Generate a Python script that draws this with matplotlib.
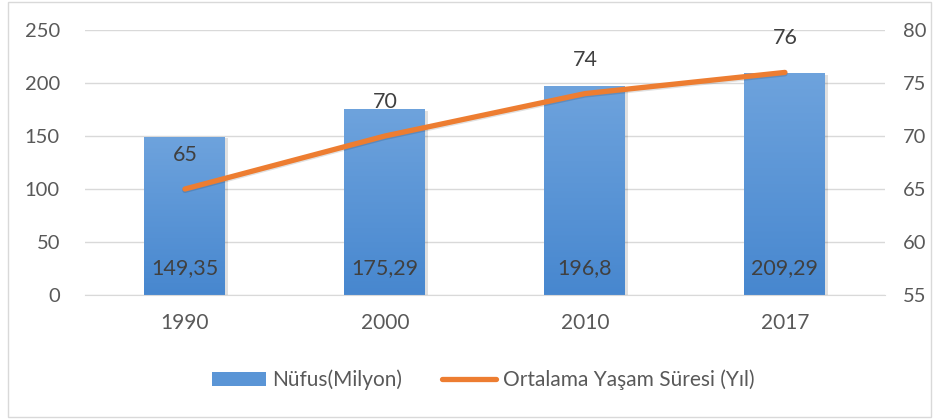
import matplotlib.pyplot as plt
import matplotlib.patches as patches
from matplotlib.lines import Line2D
from matplotlib.colors import LinearSegmentedColormap
import numpy as np

plt.rcParams['font.family'] = ['Lato', 'DejaVu Sans']

# Data
years = ['1990', '2000', '2010', '2017']
nufus = [149.35, 175.29, 196.8, 209.29]
nufus_labels = ['149,35', '175,29', '196,8', '209,29']
yasam = [65, 70, 74, 76]

FS = 14.5
FS_LAB = 15.5

fig = plt.figure(figsize=(9.4, 4.19), dpi=100)
ax = fig.add_axes([0.0904, 0.2959, 0.851, 0.6325])
ax2 = ax.twinx()

x = np.arange(len(years))
bar_w = 0.405

# Bars with vertical gradient
grad = np.linspace(0, 1, 256).reshape(-1, 1)
cmap = LinearSegmentedColormap.from_list('bl', ['#4787cf', '#6ea3dd'])
bars = ax.bar(x, nufus, width=bar_w, color='none', zorder=2)
for b in bars:
    x0, y0 = b.get_x(), b.get_y()
    w, h = b.get_width(), b.get_height()
    # soft shadow
    ax.add_patch(patches.Rectangle((x0 + 0.012, y0), w, h - 1.5, color='#000000',
                                   alpha=0.12, zorder=1.5, lw=0))
    im = ax.imshow(grad, extent=[x0, x0 + w, y0, y0 + h], origin='lower',
                   cmap=cmap, aspect='auto', zorder=2)
    im.set_clip_path(b)

for xi, lab in zip(x, nufus_labels):
    ax.text(xi, 25, lab, ha='center', va='center', fontsize=FS_LAB, color='#404040', zorder=3)

ax.set_xlim(-0.5, 3.5)
ax.set_ylim(0, 250)
ax.set_yticks(np.arange(0, 251, 50))
ax.set_xticks(x)
ax.set_xticklabels(years)
ax.grid(axis='y', color='#d9d9d9', lw=1, zorder=0)
ax.set_axisbelow(True)
for s in ['top', 'left', 'right']:
    ax.spines[s].set_visible(False)
ax.spines['bottom'].set_color('#d9d9d9')
ax.tick_params(axis='both', length=0, labelsize=FS, labelcolor='#595959')
ax.tick_params(axis='y', pad=18)
ax.tick_params(axis='x', pad=13, labelsize=15)

# Line on secondary axis
ax2.plot(x, [v - 0.12 for v in yasam], color='#000000', lw=4, alpha=0.12,
         solid_capstyle='round', zorder=3)
ax2.plot(x, yasam, color='#ed7d31', lw=3.8, solid_capstyle='round', zorder=4)
for xi, v in zip(x, yasam):
    ax2.text(xi, v + 3.2, str(v), ha='center', va='center', fontsize=FS_LAB, color='#404040')
ax2.set_ylim(55, 80)
ax2.set_yticks(np.arange(55, 81, 5))
for s in ['top', 'left', 'right', 'bottom']:
    ax2.spines[s].set_visible(False)
ax2.tick_params(axis='y', length=0, labelsize=FS, labelcolor='#595959', pad=13)
ax2.set_zorder(ax.get_zorder() + 1)

# Legend
handles = [patches.Patch(facecolor='#5a95d6', edgecolor='none'),
           Line2D([0], [0], color='#ed7d31', lw=3.8, solid_capstyle='round')]
fig.legend(handles, ['Nüfus(Milyon)', 'Ortalama Yaşam Süresi (Yıl)'], loc='center',
           bbox_to_anchor=(0.514, 0.093), ncol=2, frameon=False, fontsize=15,
           labelcolor='#595959', handlelength=2.6, handletextpad=0.3, columnspacing=1.9)

# Figure border
fig.patches.append(patches.Rectangle((0.009, 0.005), 0.981, 0.99, transform=fig.transFigure,
                                     fill=False, edgecolor='#d9d9d9', lw=1))

fig.savefig('out.png', dpi=100)
